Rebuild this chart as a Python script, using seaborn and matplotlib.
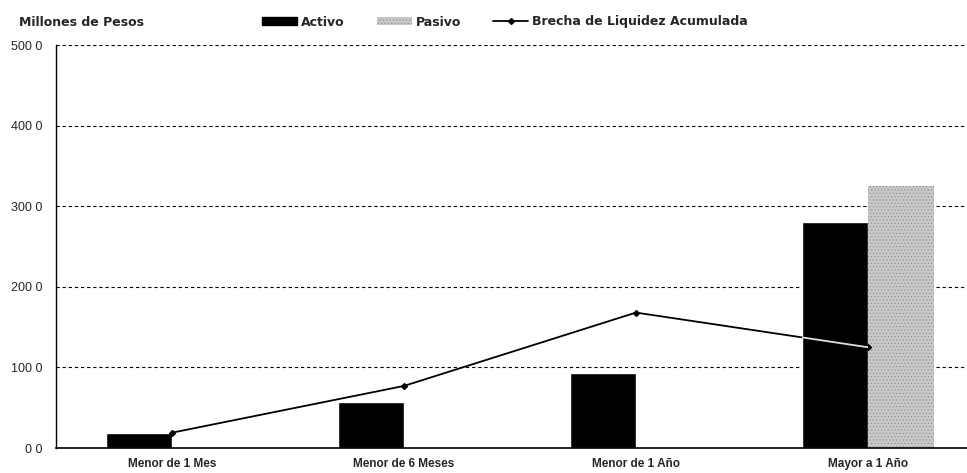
import pandas as pd
import seaborn as sns
import matplotlib.pyplot as plt
from matplotlib.patches import Patch
from matplotlib.lines import Line2D

# Data (millones de pesos)
categorias = ['Menor de 1 Mes', 'Menor de 6 Meses', 'Menor de 1 Año', 'Mayor a 1 Año']
activo = [18.5, 57.0, 93.0, 280.0]
pasivo = [0.5, 0.5, 0.5, 325.0]
brecha = [19.0, 77.0, 168.0, 125.0]
y_ticks = [0, 100, 200, 300, 400, 500]
y_labels = ['0 0', '100 0', '200 0', '300 0', '400 0', '500 0']

df = pd.DataFrame({'categoria': categorias * 2,
                   'serie': ['Activo'] * 4 + ['Pasivo'] * 4,
                   'valor': activo + pasivo})
df_line = pd.DataFrame({'categoria': categorias, 'brecha': brecha})

sns.set_style('white')
plt.rcParams['font.family'] = ['Liberation Sans', 'DejaVu Sans']
plt.rcParams['hatch.linewidth'] = 0.4

fig = plt.figure(figsize=(9.67, 4.73), dpi=100)
ax = fig.add_axes([56 / 967, 25 / 473, 911 / 967, 403 / 473])

sns.barplot(data=df, x='categoria', y='valor', hue='serie', order=categorias,
            palette={'Activo': '#000000', 'Pasivo': '#c8c8c8'}, width=0.57,
            saturation=1, legend=False, ax=ax)
for bar in ax.patches[4:]:
    bar.set_hatch('.....')
    bar.set_edgecolor('#8a8a8a')
    bar.set_linewidth(0)

sns.pointplot(data=df_line, x='categoria', y='brecha', order=categorias,
              color='black', markers='D', markersize=3, linewidth=1.3,
              errorbar=None, ax=ax)

# the line shows up light where it crosses the black bar
brecha_line = ax.lines[-1]
white = ax.plot(brecha_line.get_xdata(), brecha_line.get_ydata(), color='#e0e0e0',
                linewidth=1.3, zorder=brecha_line.get_zorder() + 1)[0]
white.set_clip_path(ax.patches[3])

# grid, spines, ticks
ax.set_ylim(0, 500)
ax.set_xlim(-0.5, 3.427)
ax.set_yticks(y_ticks)
ax.set_yticklabels(y_labels, fontsize=9)
for y in y_ticks[1:]:
    ax.axhline(y, color='black', linestyle=(0, (3, 2.5)), linewidth=0.8, zorder=0)
ax.set_xticks(range(len(categorias)))
ax.set_xticklabels(categorias, fontsize=8.5, fontweight='bold')
ax.tick_params(axis='x', direction='inout', length=4, width=0.8, pad=5)
ax.tick_params(axis='y', direction='inout', length=4, width=0.8, pad=8)
ax.set_xlabel('')
ax.set_ylabel('')
sns.despine(ax=ax, top=True, right=True)
ax.spines['left'].set_color('black')
ax.spines['bottom'].set_color('black')
ax.spines['left'].set_linewidth(1.0)
ax.spines['bottom'].set_linewidth(1.2)

bold_font = {'family': ['DejaVu Sans'], 'size': 9, 'weight': 'bold'}
fig.text(19 / 967, 1 - 22 / 473, 'Millones de Pesos', fontdict=bold_font,
         va='center', ha='left')

handles = [Patch(facecolor='black', edgecolor='black'),
           Patch(facecolor='#c8c8c8', edgecolor='#8a8a8a', hatch='.....', linewidth=0),
           Line2D([0], [0], color='black', marker='D', markersize=3, linewidth=1.3)]
fig.legend(handles, ['Activo', 'Pasivo', 'Brecha de Liquidez Acumulada'],
           loc='center', bbox_to_anchor=(0.522, 1 - 22 / 473), ncol=3,
           frameon=False, prop=bold_font,
           handlelength=2.8, handleheight=0.5, handletextpad=0.3, columnspacing=2.6)

fig.savefig('out.png', dpi=100)
